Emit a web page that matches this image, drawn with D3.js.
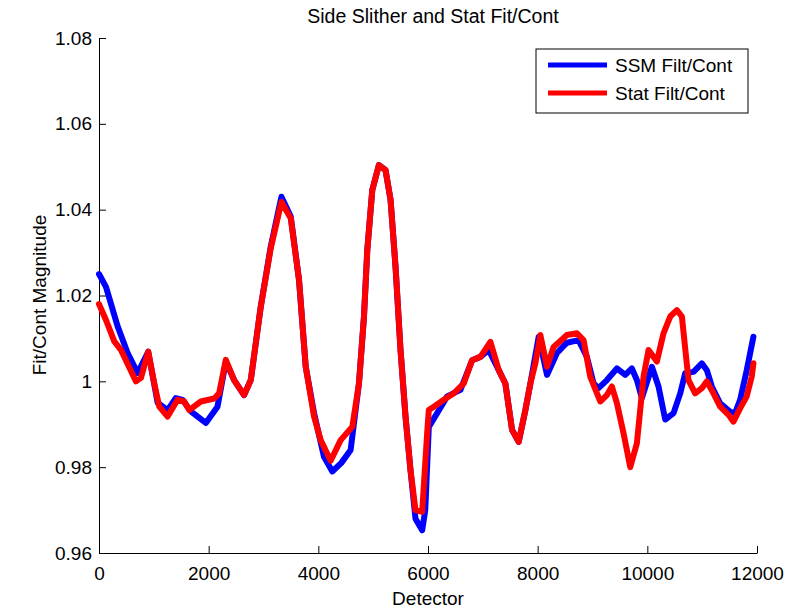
<!DOCTYPE html>
<html>
<head>
<meta charset="utf-8">
<script src="https://cdn.jsdelivr.net/npm/d3@7"></script>
<style>
  body { margin: 0; background: #fff; }
  text { font-family: "Liberation Sans", Arial, sans-serif; }
</style>
</head>
<body>
<div id="chart"></div>
<script>
// values
const ssmDetector = [0, 127, 340, 522, 705, 898, 1069, 1251, 1402, 1524, 1675, 1948, 2161, 2313, 2464, 2646, 2768, 2950, 3132, 3327, 3497, 3648, 3770, 3922, 4103, 4255, 4420, 4589, 4741, 4832, 4893, 4984, 5105, 5226, 5317, 5408, 5499, 5590, 5681, 5772, 5894, 5950, 6015, 6167, 6349, 6592, 6804, 6956, 7107, 7290, 7411, 7533, 7654, 7776, 7867, 8019, 8170, 8352, 8534, 8746, 8898, 9020, 9110, 9263, 9445, 9597, 9718, 9809, 9900, 10083, 10204, 10326, 10478, 10600, 10690, 10842, 10994, 11085, 11176, 11328, 11510, 11601, 11692, 11813, 11935];
const ssmValue = [1.025, 1.022, 1.0128, 1.0066, 1.0019, 1.0069, 0.995, 0.9933, 0.9961, 0.9957, 0.993, 0.9903, 0.9941, 1.0046, 1.0003, 0.9968, 1.0003, 1.0174, 1.0314, 1.043, 1.0384, 1.0236, 1.0034, 0.9926, 0.9824, 0.979, 0.981, 0.984, 0.9995, 1.015, 1.0306, 1.0446, 1.0504, 1.0492, 1.0423, 1.0267, 1.0073, 0.9918, 0.9793, 0.968, 0.9653, 0.97, 0.9894, 0.9926, 0.9965, 0.998, 1.0049, 1.0057, 1.0073, 1.0026, 0.9995, 0.9887, 0.9859, 0.9933, 0.9995, 1.0104, 1.0015, 1.0066, 1.009, 1.0096, 1.0057, 0.9995, 0.9984, 1.0003, 1.003, 1.0015, 1.003, 1.0003, 0.9961, 1.0034, 0.9988, 0.9911, 0.9926, 0.9972, 1.0019, 1.0022, 1.0042, 1.0026, 0.9988, 0.9949, 0.9929, 0.9926, 0.9957, 1.0026, 1.0104];

const statDetector = [0, 127, 279, 401, 674, 765, 898, 1008, 1099, 1251, 1433, 1554, 1645, 1857, 2100, 2191, 2313, 2464, 2646, 2768, 2950, 3132, 3327, 3497, 3648, 3770, 3922, 4043, 4225, 4407, 4620, 4741, 4832, 4893, 4984, 5105, 5226, 5317, 5408, 5499, 5590, 5681, 5772, 5894, 5985, 6015, 6106, 6288, 6470, 6652, 6804, 6956, 7138, 7290, 7411, 7533, 7654, 7776, 7867, 7958, 8049, 8170, 8291, 8534, 8716, 8837, 8959, 9141, 9263, 9354, 9445, 9566, 9688, 9809, 9931, 10022, 10174, 10295, 10417, 10539, 10630, 10751, 10872, 10994, 11085, 11206, 11328, 11480, 11571, 11692, 11813, 11904, 11935];
const statValue = [1.018, 1.0143, 1.0093, 1.0073, 1.0, 1.0008, 1.0069, 0.9995, 0.9941, 0.9918, 0.9957, 0.9953, 0.9933, 0.9953, 0.996, 0.9972, 1.005, 1.0003, 0.9968, 1.0003, 1.0174, 1.031, 1.0418, 1.038, 1.0236, 1.0034, 0.9918, 0.9863, 0.9815, 0.9863, 0.9894, 0.9995, 1.015, 1.0306, 1.0446, 1.0504, 1.0492, 1.0423, 1.0267, 1.0073, 0.9918, 0.9793, 0.97, 0.9696, 0.988, 0.9933, 0.9941, 0.9957, 0.9972, 0.9995, 1.0049, 1.0057, 1.0092, 1.0026, 0.9995, 0.9887, 0.9859, 0.9933, 0.9995, 1.0042, 1.0108, 1.0034, 1.008, 1.0108, 1.0112, 1.0096, 1.0011, 0.9953, 0.9968, 0.9988, 0.9949, 0.9879, 0.98, 0.9855, 1.0011, 1.0073, 1.0046, 1.0112, 1.0151, 1.0166, 1.0151, 1.0003, 0.9972, 0.9984, 1.0, 0.9972, 0.9941, 0.9922, 0.9906, 0.9937, 0.9965, 1.0011, 1.0042];

const xTicks = [0, 2000, 4000, 6000, 8000, 10000, 12000];
const yTicks = [0.96, 0.98, 1, 1.02, 1.04, 1.06, 1.08];
const yTickLabels = ["0.96", "0.98", "1", "1.02", "1.04", "1.06", "1.08"];
const seriesNames = ["SSM Filt/Cont", "Stat Filt/Cont"];
const seriesColors = ["#0000ff", "#ff0000"];

const margin = { top: 38, right: 29, bottom: 55, left: 99 },
  width = 786 - margin.left - margin.right,
  height = 608 - margin.top - margin.bottom;

const svg = d3
  .select("#chart")
  .append("svg")
  .attr("width", 786)
  .attr("height", 608)
  .append("g")
  .attr("transform", "translate(" + margin.left + "," + margin.top + ")");

const x = d3.scaleLinear().domain([0, 12000]).range([0, width]);
const y = d3.scaleLinear().domain([0.96, 1.08]).range([height, 0]);

// axes, MATLAB style: ticks point inward
const xAxis = svg
  .append("g")
  .attr("transform", "translate(0," + height + ")")
  .call(
    d3.axisBottom(x)
      .tickValues(xTicks)
      .tickFormat(d3.format("d"))
      .tickSize(-7)
      .tickPadding(14)
      .tickSizeOuter(0)
  );

const yAxis = svg
  .append("g")
  .call(
    d3.axisLeft(y)
      .tickValues(yTicks)
      .tickFormat(function (d, i) { return yTickLabels[i]; })
      .tickSize(-7)
      .tickPadding(7)
      .tickSizeOuter(0)
  );

[xAxis, yAxis].forEach(function (g) {
  g.selectAll("text").attr("font-size", 19).attr("fill", "#000");
  g.selectAll("line").attr("stroke", "#000");
  g.select(".domain").attr("stroke", "#000");
  g.attr("font-family", null);
});

// series
const series = [
  ssmDetector.map(function (d, i) { return [d, ssmValue[i]]; }),
  statDetector.map(function (d, i) { return [d, statValue[i]]; }),
];

const line = d3
  .line()
  .x(function (d) { return x(d[0]); })
  .y(function (d) { return y(d[1]); });

svg
  .append("g")
  .selectAll("path")
  .data(series)
  .enter()
  .append("path")
  .attr("d", line)
  .attr("fill", "none")
  .attr("stroke", function (d, i) { return seriesColors[i]; })
  .attr("stroke-width", 6)
  .attr("stroke-linejoin", "round")
  .attr("stroke-linecap", "round");

// titles
svg
  .append("text")
  .attr("x", width / 2 + 5)
  .attr("y", 23 - margin.top)
  .attr("text-anchor", "middle")
  .attr("font-size", 19.5)
  .text("Side Slither and Stat Fit/Cont");

svg
  .append("text")
  .attr("x", width / 2)
  .attr("y", 605 - margin.top)
  .attr("text-anchor", "middle")
  .attr("font-size", 19)
  .text("Detector");

svg
  .append("text")
  .attr("transform", "rotate(-90)")
  .attr("x", -(295 - margin.top))
  .attr("y", 46 - margin.left)
  .attr("text-anchor", "middle")
  .attr("font-size", 19)
  .text("Fit/Cont Magnitude");

// legend
const legend = svg
  .append("g")
  .attr("transform", "translate(" + (536 - margin.left) + "," + (49 - margin.top) + ")");

legend
  .append("rect")
  .attr("width", 212)
  .attr("height", 64)
  .attr("fill", "#fff")
  .attr("stroke", "#000");

seriesNames.forEach(function (name, i) {
  legend
    .append("line")
    .attr("x1", 12)
    .attr("x2", 71)
    .attr("y1", 16 + i * 28)
    .attr("y2", 16 + i * 28)
    .attr("stroke", seriesColors[i])
    .attr("stroke-width", 5);
  legend
    .append("text")
    .attr("x", 79)
    .attr("y", 23 + i * 28)
    .attr("font-size", 19)
    .text(name);
});
</script>
</body>
</html>
